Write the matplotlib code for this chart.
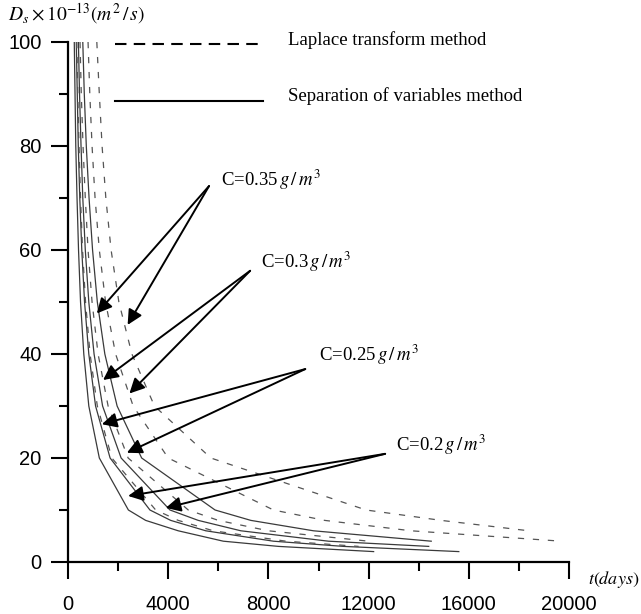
import numpy as np
import matplotlib.pyplot as plt
from matplotlib.lines import Line2D

plt.rcParams['font.family'] = ['Liberation Sans', 'DejaVu Sans']
plt.rcParams['mathtext.fontset'] = 'stix'

# --- data (t in days, Ds in 1e-13 m2/s) ---
Ds_levels = [100, 90, 80, 70, 60, 50, 40, 30, 20, 10, 8, 6, 4, 3, 2]

# separation of variables method (solid)
t_sep_035 = [250, 280, 310, 360, 420, 500, 630, 830, 1250, 2410, 3100, 4400, 6200, 8400, 12200]
t_sep_030 = [330, 370, 410, 470, 550, 660, 830, 1100, 1680, 3270, 4100, 5500, 8200, 11000, 15600]
t_sep_025 = [415, 460, 520, 590, 690, 830, 1040, 1380, 2120, 4070, 5200, 6900, 10400, 14400]
t_sep_020 = [590, 650, 730, 840, 980, 1170, 1470, 1960, 2940, 5870, 7300, 9800, 14500]

# Laplace transform method (dashed)
t_lap_035 = [350, 390, 440, 500, 580, 700, 880, 1170, 1750, 3500, 4400, 5800, 8700, 11600]
t_lap_030 = [480, 530, 600, 690, 800, 960, 1200, 1600, 2400, 4800, 6000, 8000, 12000]
t_lap_025 = [800, 870, 960, 1080, 1250, 1500, 1900, 2600, 4000, 8200, 10250, 13700, 19700]
t_lap_020 = [1150, 1250, 1360, 1510, 1720, 2030, 2550, 3450, 5700, 11900, 14900, 18400]

legend_labels = ['Laplace transform method', 'Separation of variables method']
conc_labels = ['C=0.35', 'C=0.3', 'C=0.25', 'C=0.2']
# label position and arrow tips (t, Ds)
label_pos = [(6100, 73.5), (7700, 57.8), (10000, 39.8), (13100, 22.6)]
arrow_tail = [(5630, 72.3), (7270, 56.0), (9470, 37.1), (12660, 20.8)]
arrow_tips = [[(1150, 47.8), (2380, 45.6)],
              [(1400, 35.0), (2450, 32.4)],
              [(1350, 26.5), (2350, 21.0)],
              [(2400, 12.7), (3900, 10.4)]]

fig = plt.figure(figsize=(6.41, 6.14), dpi=100)
ax = fig.add_axes([0.1061, 0.0847, 0.7816, 0.8469])

solid_kw = dict(color='#3a3a3a', lw=0.9)
dash_kw = dict(color='#555555', lw=0.9, dashes=(5, 7))
for tt in [t_sep_035, t_sep_030, t_sep_025, t_sep_020]:
    ax.plot(tt, Ds_levels[:len(tt)], **solid_kw)
for tt in [t_lap_035, t_lap_030, t_lap_025, t_lap_020]:
    ax.plot(tt, Ds_levels[:len(tt)], **dash_kw)

ax.set_xlim(0, 20000)
ax.set_ylim(0, 100)
ax.spines['top'].set_visible(False)
ax.spines['right'].set_visible(False)
ax.spines['left'].set_linewidth(1.6)
ax.spines['bottom'].set_linewidth(1.6)
ax.set_xticks(np.arange(0, 20001, 4000))
ax.set_xticks(np.arange(2000, 20000, 4000), minor=True)
ax.set_yticks(np.arange(0, 101, 20))
ax.set_yticks(np.arange(10, 100, 20), minor=True)
ax.tick_params(which='major', length=12, width=1.5, labelsize=14.5)
ax.tick_params(which='minor', length=6.5, width=1.5)
ax.tick_params(axis='x', which='major', pad=12)
ax.tick_params(axis='y', which='major', pad=7)

# legend drawn as plain lines + text
ax.add_line(Line2D([1880, 7800], [99.6, 99.6], color='k', lw=1.5, dashes=(5.5, 3.5), clip_on=False))
ax.add_line(Line2D([1880, 7800], [88.6, 88.6], color='k', lw=1.5, clip_on=False))
ax.text(8800, 100.4, legend_labels[0], family='Liberation Serif', fontsize=13.5, va='center')
ax.text(8800, 89.6, legend_labels[1], family='Liberation Serif', fontsize=13.5, va='center')

for lab, pos, tail, tips in zip(conc_labels, label_pos, arrow_tail, arrow_tips):
    ax.text(pos[0], pos[1], lab + r'$\,g\,/\,m^3$', family='Liberation Serif',
            fontsize=13.5, va='center')
    for tip in tips:
        ax.annotate('', xy=tip, xytext=tail,
                    arrowprops=dict(arrowstyle='-|>,head_length=0.9,head_width=0.45',
                                    color='k', lw=1.4, shrinkA=0, shrinkB=0))

fig.text(8 / 641, 1 - 14 / 614, r'$D_s\times10^{-13}(m^2\,/\,s)$', fontsize=14, va='center')
fig.text(639 / 641, 1 - 579 / 614, r'$t(days)$', fontsize=13, va='center', ha='right')

fig.savefig('out.png', dpi=100)
